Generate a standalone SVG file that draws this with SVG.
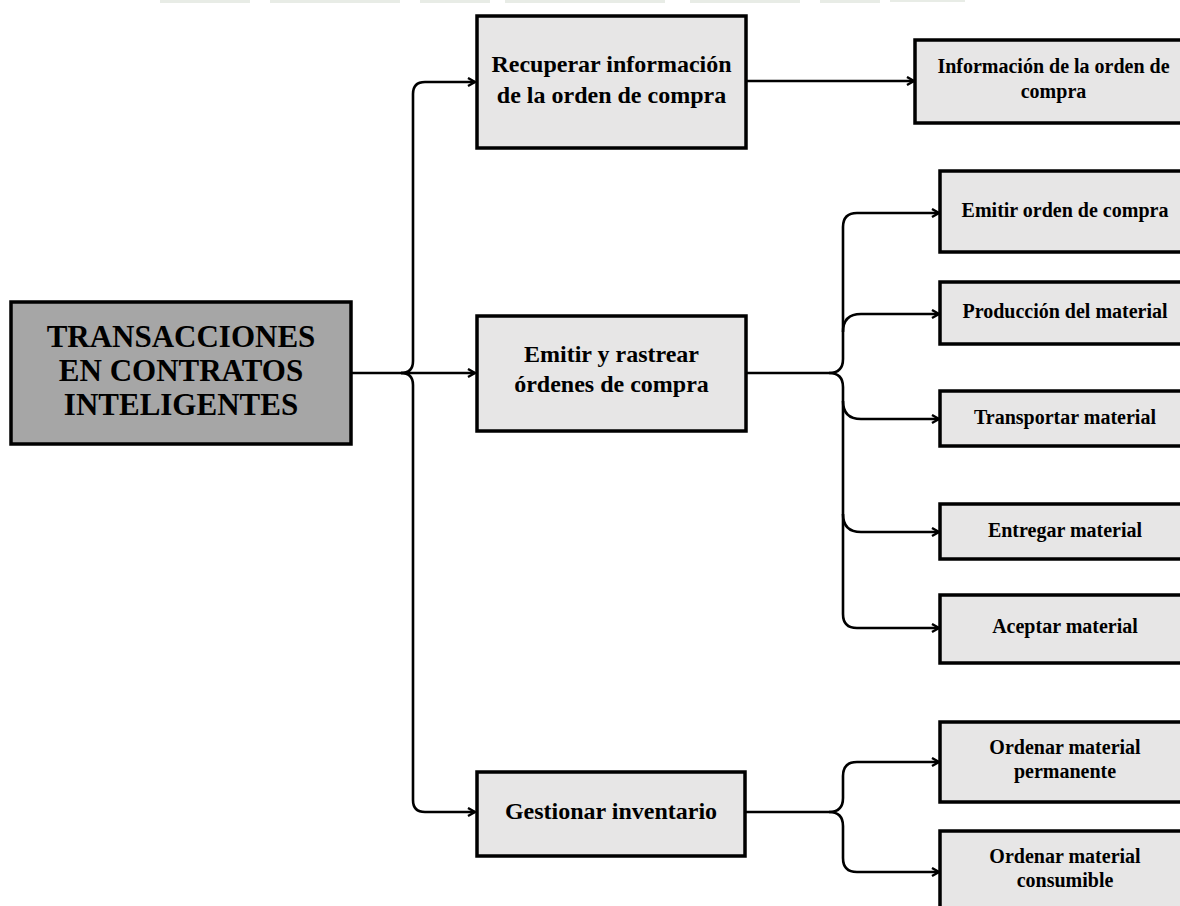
<svg xmlns="http://www.w3.org/2000/svg" width="1180" height="906" viewBox="0 0 1180 906">
  <style>
    .box { fill: #e7e6e6; stroke: #000; stroke-width: 3.5; }
    .root { fill: #a6a6a6; stroke: #000; stroke-width: 3.5; }
    .t { font-family: "Liberation Serif", "Times New Roman", serif; font-weight: bold; fill: #000; text-anchor: middle; }
    .t31 { font-size: 31px; }
    .t24 { font-size: 24px; }
    .t20 { font-size: 20px; }
    .wire { fill: none; stroke: #000; stroke-width: 2.6; stroke-linejoin: round; }
    .wm { fill: #e8ece6; }
  </style>
  <defs>
    <marker id="arrow" markerUnits="userSpaceOnUse" markerWidth="12" markerHeight="12" refX="8" refY="5" orient="auto">
      <path d="M1,1 L8,5 L1,9" fill="none" stroke="#000" stroke-width="2.4" stroke-linejoin="miter"/>
    </marker>
  </defs>
  <rect width="1180" height="906" fill="#fff"/>

  <!-- faint header band -->
  <g id="header-band">
    <rect class="wm" x="160" y="0" width="90" height="3"/>
    <rect class="wm" x="270" y="0" width="130" height="3"/>
    <rect class="wm" x="420" y="0" width="70" height="3"/>
    <rect class="wm" x="505" y="0" width="160" height="3"/>
    <rect class="wm" x="690" y="0" width="110" height="3"/>
    <rect class="wm" x="820" y="0" width="60" height="3"/>
    <rect class="wm" x="890" y="0" width="75" height="2"/>
  </g>

  <!-- connectors -->
  <g id="connectors">
    <!-- root to level 1 -->
    <path class="wire" d="M351,373 H475" marker-end="url(#arrow)"/>
    <path class="wire" d="M401,373 Q413,373 413,361 V94 Q413,82 425,82 H475" marker-end="url(#arrow)"/>
    <path class="wire" d="M401,373 Q413,373 413,385 V800 Q413,812 425,812 H475" marker-end="url(#arrow)"/>
    <!-- recuperar -> información -->
    <path class="wire" d="M746,81 H914" marker-end="url(#arrow)"/>
    <!-- emitir y rastrear -> steps -->
    <path class="wire" d="M746,373 H829"/>
    <path class="wire" d="M829,373 Q843,373 843,359 V227 Q843,213 857,213 H939" marker-end="url(#arrow)"/>
    <path class="wire" d="M843,332 Q843,314 861,314 H939" marker-end="url(#arrow)"/>
    <path class="wire" d="M829,373 Q843,373 843,387 V614 Q843,628 857,628 H939" marker-end="url(#arrow)"/>
    <path class="wire" d="M843,401 Q843,419 861,419 H939" marker-end="url(#arrow)"/>
    <path class="wire" d="M843,514 Q843,532 861,532 H939" marker-end="url(#arrow)"/>
    <!-- gestionar inventario -> orders -->
    <path class="wire" d="M745,812 H829"/>
    <path class="wire" d="M829,812 Q843,812 843,798 V776 Q843,762 857,762 H939" marker-end="url(#arrow)"/>
    <path class="wire" d="M829,812 Q843,812 843,826 V858 Q843,872 857,872 H939" marker-end="url(#arrow)"/>
  </g>

  <g id="root">
    <rect class="root" x="11" y="302" width="340" height="142"/>
    <text class="t t31" x="181" y="347">TRANSACCIONES</text>
    <text class="t t31" x="181" y="381">EN CONTRATOS</text>
    <text class="t t31" x="181" y="415">INTELIGENTES</text>
  </g>

  <g id="recuperar">
    <rect class="box" x="477" y="16" width="269" height="132"/>
    <text class="t t24" x="611.5" y="72">Recuperar información</text>
    <text class="t t24" x="611.5" y="103">de la orden de compra</text>
  </g>

  <g id="emitir-rastrear">
    <rect class="box" x="477" y="316" width="269" height="115"/>
    <text class="t t24" x="611.5" y="362">Emitir y rastrear</text>
    <text class="t t24" x="611.5" y="392">órdenes de compra</text>
  </g>

  <g id="gestionar">
    <rect class="box" x="477" y="772" width="268" height="84"/>
    <text class="t t24" x="611" y="819">Gestionar inventario</text>
  </g>

  <g id="informacion">
    <rect class="box" x="915" y="40" width="277" height="83"/>
    <text class="t t20" x="1053.5" y="73">Información de la orden de</text>
    <text class="t t20" x="1053.5" y="98">compra</text>
  </g>

  <g id="emitir-orden">
    <rect class="box" x="940" y="171" width="252" height="81"/>
    <text class="t t20" x="1065" y="217">Emitir orden de compra</text>
  </g>

  <g id="produccion">
    <rect class="box" x="940" y="282" width="252" height="62"/>
    <text class="t t20" x="1065" y="318">Producción del material</text>
  </g>

  <g id="transportar">
    <rect class="box" x="940" y="391" width="252" height="55"/>
    <text class="t t20" x="1065" y="424">Transportar material</text>
  </g>

  <g id="entregar">
    <rect class="box" x="940" y="504" width="252" height="55"/>
    <text class="t t20" x="1065" y="537">Entregar material</text>
  </g>

  <g id="aceptar">
    <rect class="box" x="940" y="595" width="252" height="68"/>
    <text class="t t20" x="1065" y="633">Aceptar material</text>
  </g>

  <g id="ordenar-permanente">
    <rect class="box" x="940" y="722" width="252" height="80"/>
    <text class="t t20" x="1065" y="754">Ordenar material</text>
    <text class="t t20" x="1065" y="778">permanente</text>
  </g>

  <g id="ordenar-consumible">
    <rect class="box" x="940" y="831" width="252" height="90"/>
    <text class="t t20" x="1065" y="863">Ordenar material</text>
    <text class="t t20" x="1065" y="887">consumible</text>
  </g>
</svg>
